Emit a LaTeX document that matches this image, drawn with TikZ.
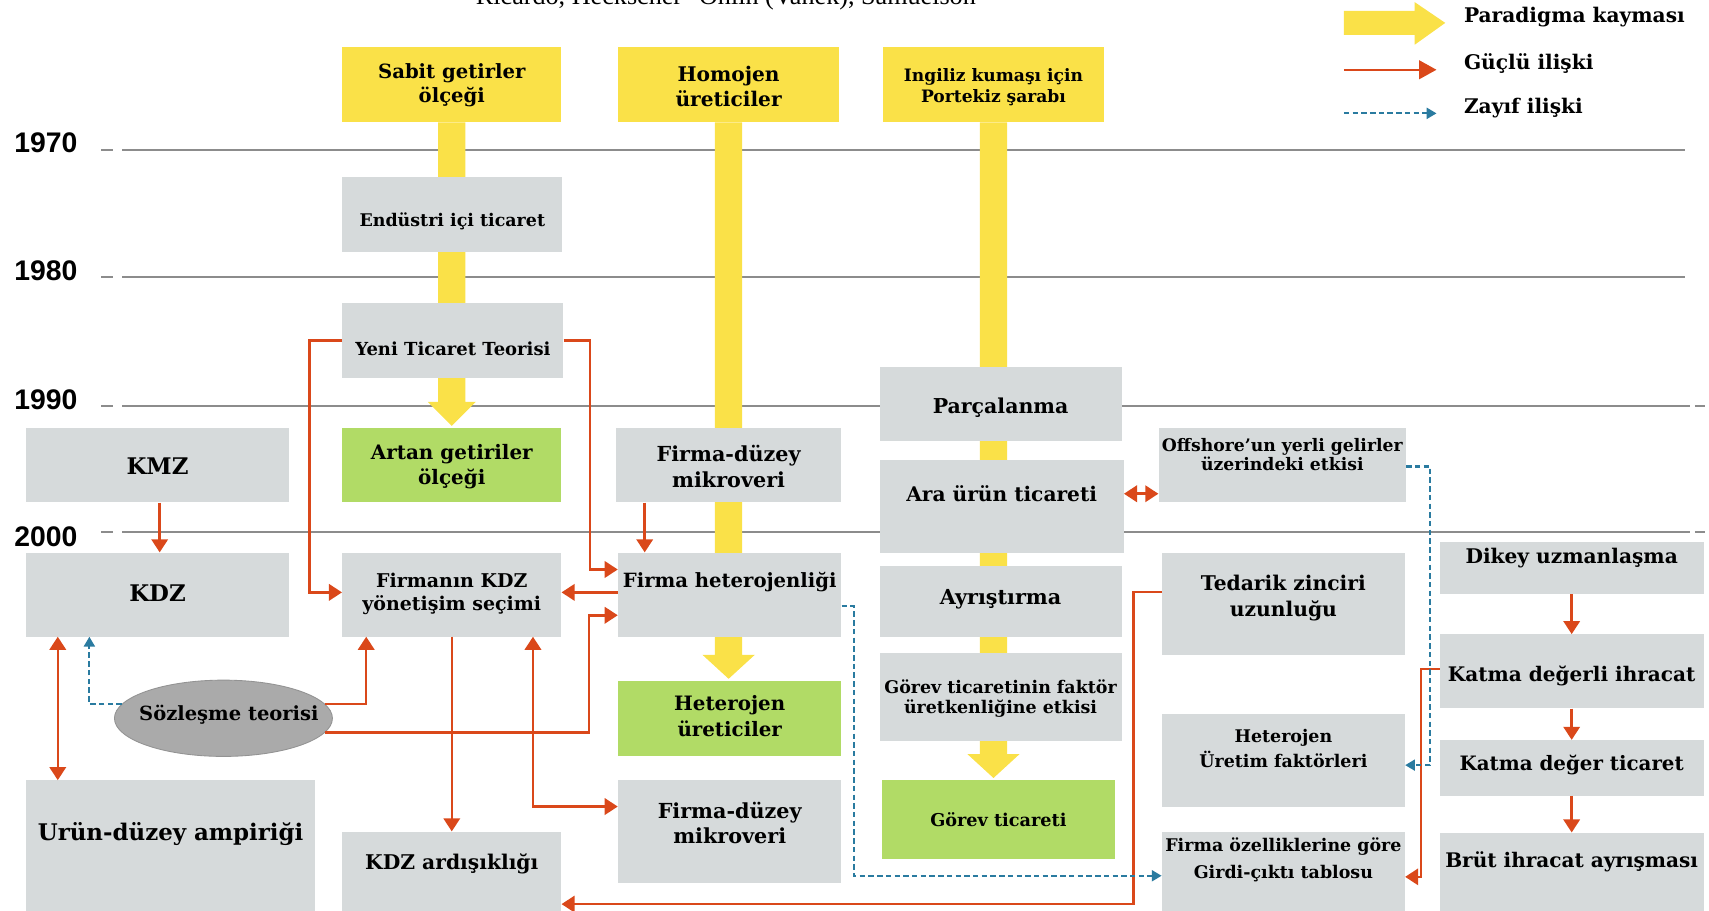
\documentclass[tikz,border=0pt]{standalone}
\usepackage{fontspec}
\setmainfont{DejaVu Serif}
\newfontfamily\yearfont{Liberation Sans}
\newfontfamily\titlefont{Liberation Serif}
\usetikzlibrary{arrows.meta,shapes.geometric,backgrounds,calc}

\definecolor{shiftyellow}{RGB}{250,225,72}
\definecolor{boxgray}{RGB}{214,218,219}
\definecolor{boxgreen}{RGB}{177,219,102}
\definecolor{strongred}{RGB}{218,72,26}
\definecolor{weakblue}{RGB}{42,123,160}
\definecolor{gridgray}{RGB}{140,140,140}
\definecolor{ovalgray}{RGB}{170,170,170}

\tikzset{
  panelbase/.style={rectangle, inner sep=0pt, draw=none},
  graybox/.style={panelbase, fill=boxgray},
  yellowbox/.style={panelbase, fill=shiftyellow},
  greenbox/.style={panelbase, fill=boxgreen},
  lbl/.style={align=center, inner sep=0pt, text=black},
  strong/.style={draw=strongred, line width=2.3pt, -{Triangle[length=12pt,width=15pt]}},
  strongboth/.style={draw=strongred, line width=2.3pt, {Triangle[length=12pt,width=15pt]}-{Triangle[length=12pt,width=15pt]}},
  weak/.style={draw=weakblue, line width=2pt, dash pattern=on 5pt off 3pt, -{Triangle[length=9pt,width=10pt]}},
  gridline/.style={draw=gridgray, line width=2.2pt},
  yearlbl/.style={font=\yearfont\bfseries\fontsize{26}{28}\selectfont, inner sep=0pt},
  legendlbl/.style={font=\bfseries\fontsize{18.5}{20}\selectfont, anchor=west, inner sep=0pt},
}

% #1 name, #2 fill style, #3-#6 corners, #7 text height, #8 text, #9 font size command
\newcommand{\panel}[9]{%
  \node[#2, minimum width={(#5)-(#3)}, minimum height={(#6)-(#4)}] (#1) at ({((#3)+(#5))/2},{((#4)+(#6))/2}) {};
  \node[lbl, font=\bfseries#9\selectfont] (#1-t) at ({((#3)+(#5))/2},#7) {#8};}

% broad yellow arrow running from one panel down to another
\newcommand{\shiftarrow}[3]{%
  \fill[shiftyellow] ($(#1.south)+(-12.5,0)$) -- ($(#1.south |- #2.north)+(-12.5,-24)$)
    -- ($(#1.south |- #2.north)+(-#3,-24)$) -- ($(#1.south |- #2.north)+(0,-2)$)
    -- ($(#1.south |- #2.north)+(#3,-24)$) -- ($(#1.south |- #2.north)+(12.5,-24)$)
    -- ($(#1.south)+(12.5,0)$) -- cycle;}

\begin{document}
\begin{tikzpicture}[x=1pt,y=-1pt]
\useasboundingbox (0,0) rectangle (1568,835);

\node[font=\titlefont\fontsize{24}{26}\selectfont, anchor=base, inner sep=0pt] (theories) at (666,4.5) {Ricardo, Heckscher-{}-Ohlin (Vanek), Samuelson};

% decade labels
\node[yearlbl] (y1970) at (42,131) {1970};
\node[yearlbl] (y1980) at (42,248) {1980};
\node[yearlbl] (y1990) at (42,367) {1990};
\node[yearlbl] (y2000) at (42,492) {2000};

% panels
\panel{sabit}{yellowbox}{314}{43}{515}{112}{78}{Sabit getirler\\ölçeği}{\fontsize{18}{22}}
\panel{homojen}{yellowbox}{567}{43}{770}{112}{79}{Homojen\\üreticiler}{\fontsize{18.5}{23}}
\panel{ingiliz}{yellowbox}{810}{43}{1013}{112}{80}{Ingiliz kumaşı için\\Portekiz şarabı}{\fontsize{15.7}{19}}
\panel{endustri}{graybox}{314}{162}{516}{231}{203}{Endüstri içi ticaret}{\fontsize{16}{20}}
\panel{yeni}{graybox}{314}{278}{517}{347}{320}{Yeni Ticaret Teorisi}{\fontsize{16.5}{20}}
\panel{artan}{greenbox}{314}{393}{515}{461}{428}{Artan getiriler\\ölçeği}{\fontsize{18.3}{23}}
\panel{kmz}{graybox}{24}{393}{265}{461}{428}{KMZ}{\fontsize{21}{24}}
\panel{fmvtop}{graybox}{565}{393}{772}{461}{428}{Firma-düzey\\mikroveri}{\fontsize{19}{23}}
\panel{parca}{graybox}{807}{337}{1029}{405}{374}{Parçalanma}{\fontsize{18.8}{22}}
\panel{arauru}{graybox}{807}{422}{1031}{507}{453}{Ara ürün ticareti}{\fontsize{18.5}{22}}
\panel{offshore}{graybox}{1063}{393}{1290}{461}{417}{Offshore'un yerli gelirler\\üzerindeki etkisi}{\fontsize{15.8}{18}}
\panel{kdz}{graybox}{24}{507}{265}{584}{544}{KDZ}{\fontsize{21}{24}}
\panel{firmkdz}{graybox}{314}{507}{515}{584}{545}{Firmanın KDZ\\yönetişim seçimi}{\fontsize{17.4}{21}}
\panel{firmhet}{graybox}{567}{507}{772}{584}{534}{Firma heterojenliği}{\fontsize{18}{22}}
\panel{ayris}{graybox}{807}{519}{1029}{584}{550}{Ayrıştırma}{\fontsize{19}{22}}
\panel{tedarik}{graybox}{1066}{507}{1289}{601}{549}{Tedarik zinciri\\uzunluğu}{\fontsize{18.6}{24}}
\panel{dikey}{graybox}{1321}{497}{1563}{545}{512}{Dikey uzmanlaşma}{\fontsize{18.5}{22}}
\panel{gorevf}{graybox}{807}{599}{1029}{680}{641}{Görev ticaretinin faktör\\üretkenliğine etkisi}{\fontsize{16}{18}}
\panel{hetuer}{greenbox}{567}{625}{772}{694}{657}{Heterojen\\üreticiler}{\fontsize{18.2}{23}}
\panel{katmaihr}{graybox}{1321}{582}{1563}{650}{620}{Katma değerli ihracat}{\fontsize{18.4}{22}}
\panel{hetuf}{graybox}{1066}{655}{1289}{740}{687}{Heterojen\\Üretim faktörleri}{\fontsize{16}{23}}
\panel{katmatic}{graybox}{1321}{679}{1563}{730}{702}{Katma değer ticaret}{\fontsize{18.2}{22}}
\panel{urun}{graybox}{24}{716}{289}{842}{765}{Urün-düzey ampiriği}{\fontsize{21}{24}}
\panel{fmvbot}{graybox}{567}{716}{772}{810}{755}{Firma-düzey\\mikroveri}{\fontsize{19}{23}}
\panel{gorevt}{greenbox}{809}{716}{1023}{788}{752}{Görev ticareti}{\fontsize{16.2}{20}}
\panel{kdzard}{graybox}{314}{763}{515}{842}{793}{KDZ ardışıklığı}{\fontsize{18.6}{22}}
\panel{girdi}{graybox}{1066}{763}{1289}{842}{789}{Firma özelliklerine göre\\Girdi-çıktı tablosu}{\fontsize{16}{25}}
\panel{brut}{graybox}{1321}{764}{1563}{842}{791}{Brüt ihracat ayrışması}{\fontsize{18.4}{22}}

% contract theory oval, its text set on top of it
\node[ellipse, fill=ovalgray, draw=gray!85, line width=0.8pt, minimum width=200pt, minimum height=70pt, inner sep=0pt] (sozlesme) at (205,659) {};
\node[lbl, font=\bfseries\fontsize{17.9}{20}\selectfont] (sozlesme-t) at (210,656) {Sözleşme teorisi};

\begin{pgfonlayer}{background}
  % decade rules
  \foreach \yy/\xe in {137.5/1546, 254/1546, 372.5/1551, 488/1551} {
    \draw[gridline] (93,\yy) -- (104,\yy);
    \draw[gridline] (112,\yy) -- (\xe,\yy);
  }
  \draw[gridline] (1555,372.5) -- (1564,372.5);
  \draw[gridline] (1555,488) -- (1564,488);
  % paradigm shifts
  \shiftarrow{sabit}{artan}{22}
  \shiftarrow{homojen}{hetuer}{24}
  \shiftarrow{ingiliz}{gorevt}{24}
\end{pgfonlayer}

% strong relations
\draw[strong] (yeni.west) -- ++(-30,0) |- ([yshift=2pt]firmkdz.west);
\draw[strong] (yeni.east) -- ++(24,0) |- ([yshift=23pt]firmhet.west);
\draw[strong] ([xshift=2pt]kmz.south) -- ([xshift=2pt]kdz.north);
\draw[strong] ([xshift=-77pt]fmvtop.south) -- ([xshift=-77pt]fmvtop.south |- firmhet.north);
\draw[strong] ([yshift=2pt]firmhet.west) -- ([yshift=2pt]firmkdz.east);
\draw[strong] (sozlesme.8) -| ([xshift=-78.5pt]firmkdz.south);
\draw[strong] (sozlesme.-8) -- ++(242,0) |- ([yshift=-19pt]firmhet.west);
\draw[strongboth] ([xshift=-91.5pt]kdz.south) -- ([xshift=-91.5pt]kdz.south |- urun.north);
\draw[strong] (firmkdz.south) -- (kdzard.north);
\draw[strongboth] ([xshift=74.5pt]firmkdz.south) |- ([yshift=23pt]fmvbot.west);
\draw[strong] ([yshift=11pt]tedarik.west) -- ++(-26,0) |- ([yshift=-27pt]kdzard.east);
\draw[strong] ([yshift=2pt]katmaihr.west) -- ++(-17,0) |- ([yshift=-2pt]girdi.east);
\draw[strongboth] ([yshift=11.5pt]arauru.east) -- ([yshift=11.5pt]arauru.east -| offshore.west);
\draw[strong] (dikey.south) -- (katmaihr.north);
\draw[strong] (katmaihr.south) -- (katmatic.north);
\draw[strong] (katmatic.south) -- (brut.north);

% weak relations
\draw[weak] (sozlesme.172) -| ([xshift=-62.5pt]kdz.south);
\draw[weak] ([yshift=-10.5pt]firmhet.east) -- ++(11,0) |- ([yshift=-1pt]girdi.west);
\draw[weak] ([yshift=-1pt]offshore.east) -- ++(22,0) |- ([yshift=-4.5pt]hetuf.east);

% legend
\fill[shiftyellow] (1233,10) -- (1298,10) -- (1298,2) -- (1326,21) -- (1298,41) -- (1298,32) -- (1233,32) -- cycle;
\coordinate (lgstrongA) at (1233,64);
\coordinate (lgstrongB) at (1318,64);
\coordinate (lgweakA) at (1233,104);
\coordinate (lgweakB) at (1318,104);
\draw[strong, -{Triangle[length=16pt,width=17pt]}] (lgstrongA) -- (lgstrongB);
\draw[weak] (lgweakA) -- (lgweakB);
\node[legendlbl] (lgshift) at (1343,16) {Paradigma kayması};
\node[legendlbl] (lgstrong) at (1343,58) {Güçlü ilişki};
\node[legendlbl] (lgweak) at (1343,99) {Zayıf ilişki};
\end{tikzpicture}
\end{document}
